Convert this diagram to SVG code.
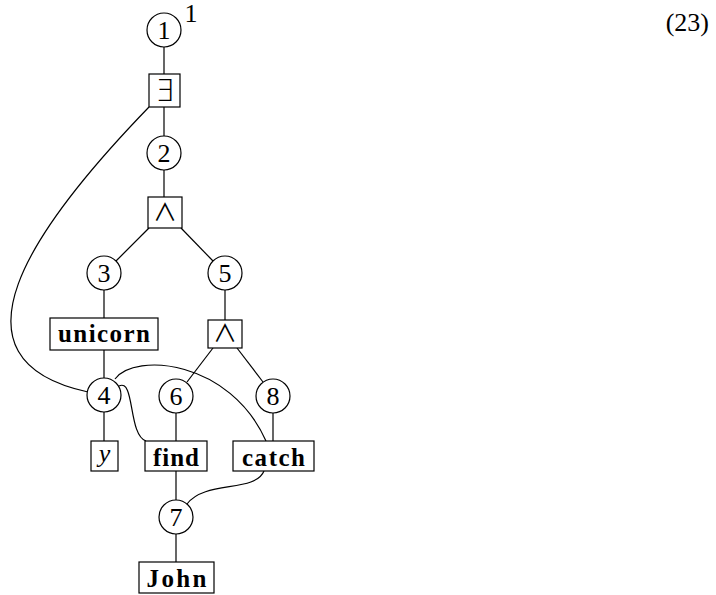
<svg xmlns="http://www.w3.org/2000/svg" width="716" height="595" viewBox="0 0 716 595">
<style>
.c{fill:#fff;stroke:#000;stroke-width:1.2}
.b{fill:#fff;stroke:#000;stroke-width:1.2}
.e{fill:none;stroke:#000;stroke-width:1.2}
.n{font-family:"Liberation Serif","DejaVu Serif",serif;font-size:26px;text-anchor:middle;fill:#000}
.w{font-family:"Liberation Serif","DejaVu Serif",serif;font-size:25px;font-weight:bold;text-anchor:middle;fill:#000}
.s{font-family:"DejaVu Sans ExtraLight","DejaVu Sans","Liberation Sans",sans-serif;font-weight:200;font-size:30px;text-anchor:middle;fill:#000}
.a{font-family:"Noto Sans CJK JP","DejaVu Sans",sans-serif;font-weight:400;font-size:24px;text-anchor:middle;fill:#000}
</style>
<rect width="716" height="595" fill="#fff"/>
<g id="connectors">
<line class="e" x1="164" y1="47" x2="164" y2="74"/>
<line class="e" x1="164" y1="107" x2="164" y2="136"/>
<line class="e" x1="164" y1="170" x2="164" y2="197"/>
<line class="e" x1="149" y1="228" x2="116" y2="261"/>
<line class="e" x1="181" y1="228" x2="213" y2="261"/>
<line class="e" x1="104" y1="290" x2="104" y2="318"/>
<line class="e" x1="225" y1="290" x2="225" y2="320"/>
<line class="e" x1="104" y1="350" x2="104" y2="378"/>
<line class="e" x1="213" y1="348" x2="187" y2="382"/>
<line class="e" x1="237" y1="348" x2="263" y2="382"/>
<line class="e" x1="104" y1="412" x2="104" y2="441"/>
<line class="e" x1="176" y1="413" x2="176" y2="441"/>
<line class="e" x1="273" y1="413" x2="273" y2="441"/>
<line class="e" x1="176" y1="471" x2="176" y2="500"/>
<line class="e" x1="176" y1="534" x2="176" y2="562"/>
<path class="e" d="M149,107 C30,230 -60,360 88,392"/>
<path class="e" d="M115,379 C135,352 230,360 266,441"/>
<path class="e" d="M119,386 C135,378 128,435 146,441"/>
<path class="e" d="M264,471 C255,493 205,480 187,504"/>
</g>
<g id="n1"><circle class="c" cx="164" cy="30" r="17"/><text class="n" x="164" y="39">1</text></g>
<text class="n" x="191" y="22">1</text>
<g id="exists"><rect class="b" x="149" y="74" width="31" height="33"/><text class="s" x="164.5" y="101" font-size="26px">∃</text></g>
<g id="n2"><circle class="c" cx="164" cy="153" r="17"/><text class="n" x="164" y="162">2</text></g>
<g id="and1"><rect class="b" x="148" y="197" width="34" height="31"/><text class="a" x="165" y="221">∧</text></g>
<g id="n3"><circle class="c" cx="104" cy="273" r="17"/><text class="n" x="104" y="282">3</text></g>
<g id="n5"><circle class="c" cx="225" cy="273" r="17"/><text class="n" x="225" y="282">5</text></g>
<g id="unicorn"><rect class="b" x="50" y="318" width="108" height="32"/><text class="w" x="104" y="342" textLength="92" lengthAdjust="spacing">unicorn</text></g>
<g id="and2"><rect class="b" x="208" y="320" width="34" height="28"/><text class="a" x="225" y="342">∧</text></g>
<g id="n4"><circle class="c" cx="104" cy="395" r="17"/><text class="n" x="104" y="404">4</text></g>
<g id="n6"><circle class="c" cx="176" cy="396" r="17"/><text class="n" x="176" y="405">6</text></g>
<g id="n8"><circle class="c" cx="273" cy="396" r="17"/><text class="n" x="273" y="405">8</text></g>
<g id="y"><rect class="b" x="91" y="441" width="27" height="30"/><text class="n" x="104.5" y="462" font-style="italic">y</text></g>
<g id="find"><rect class="b" x="145" y="441" width="62" height="30"/><text class="w" x="176" y="466" textLength="46" lengthAdjust="spacing">find</text></g>
<g id="catch"><rect class="b" x="233" y="441" width="81" height="30"/><text class="w" x="273.5" y="466" textLength="63" lengthAdjust="spacing">catch</text></g>
<g id="n7"><circle class="c" cx="176" cy="517" r="17"/><text class="n" x="176" y="526">7</text></g>
<g id="john"><rect class="b" x="139" y="562" width="75" height="31"/><text class="w" x="176.5" y="587" textLength="60" lengthAdjust="spacing">John</text></g>
<text class="n" x="709" y="31" style="text-anchor:end">(23)</text>
</svg>
